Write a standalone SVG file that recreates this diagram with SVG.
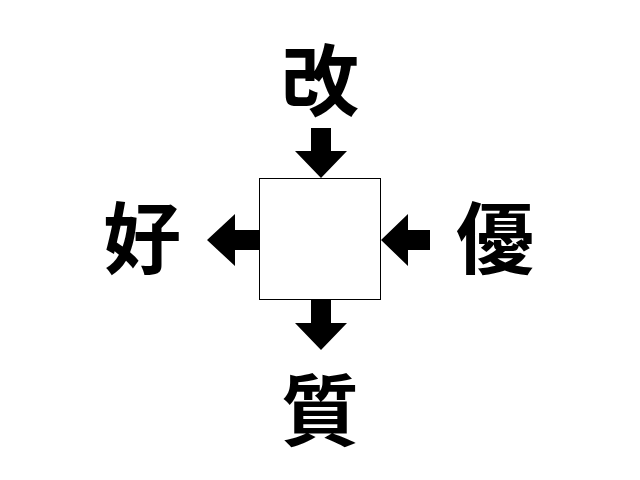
<svg xmlns="http://www.w3.org/2000/svg" width="640" height="480" viewBox="0 0 640 480">
<style>
.t{font-family:"Noto Sans CJK JP","Noto Sans CJK SC",sans-serif;font-weight:bold;font-size:78px;text-anchor:middle;fill:#000}
.a{fill:#000}
</style>
<rect width="640" height="480" fill="#fff"/>
<g id="center"><rect x="259.5" y="178.5" width="121" height="121" fill="#fff" stroke="#000" stroke-width="1"/></g>
<g id="n-top"><text class="t" x="320" y="110">改</text></g>
<g id="n-left"><text class="t" x="142" y="268">好</text></g>
<g id="n-right"><text class="t" x="495" y="268">優</text></g>
<g id="n-bottom"><text class="t" x="320" y="440">質</text></g>
<g id="connectors">
<polygon class="a" points="311,128 331,128 331,151 347,151 321,178 295,151 311,151"/>
<polygon class="a" points="259,230 259,250 235,250 235,266 207,240 235,214 235,230"/>
<polygon class="a" points="430,230 430,250 408,250 408,266 381,240 408,214 408,230"/>
<polygon class="a" points="311,300 331,300 331,323 347,323 321,350 295,323 311,323"/>
</g>
</svg>
